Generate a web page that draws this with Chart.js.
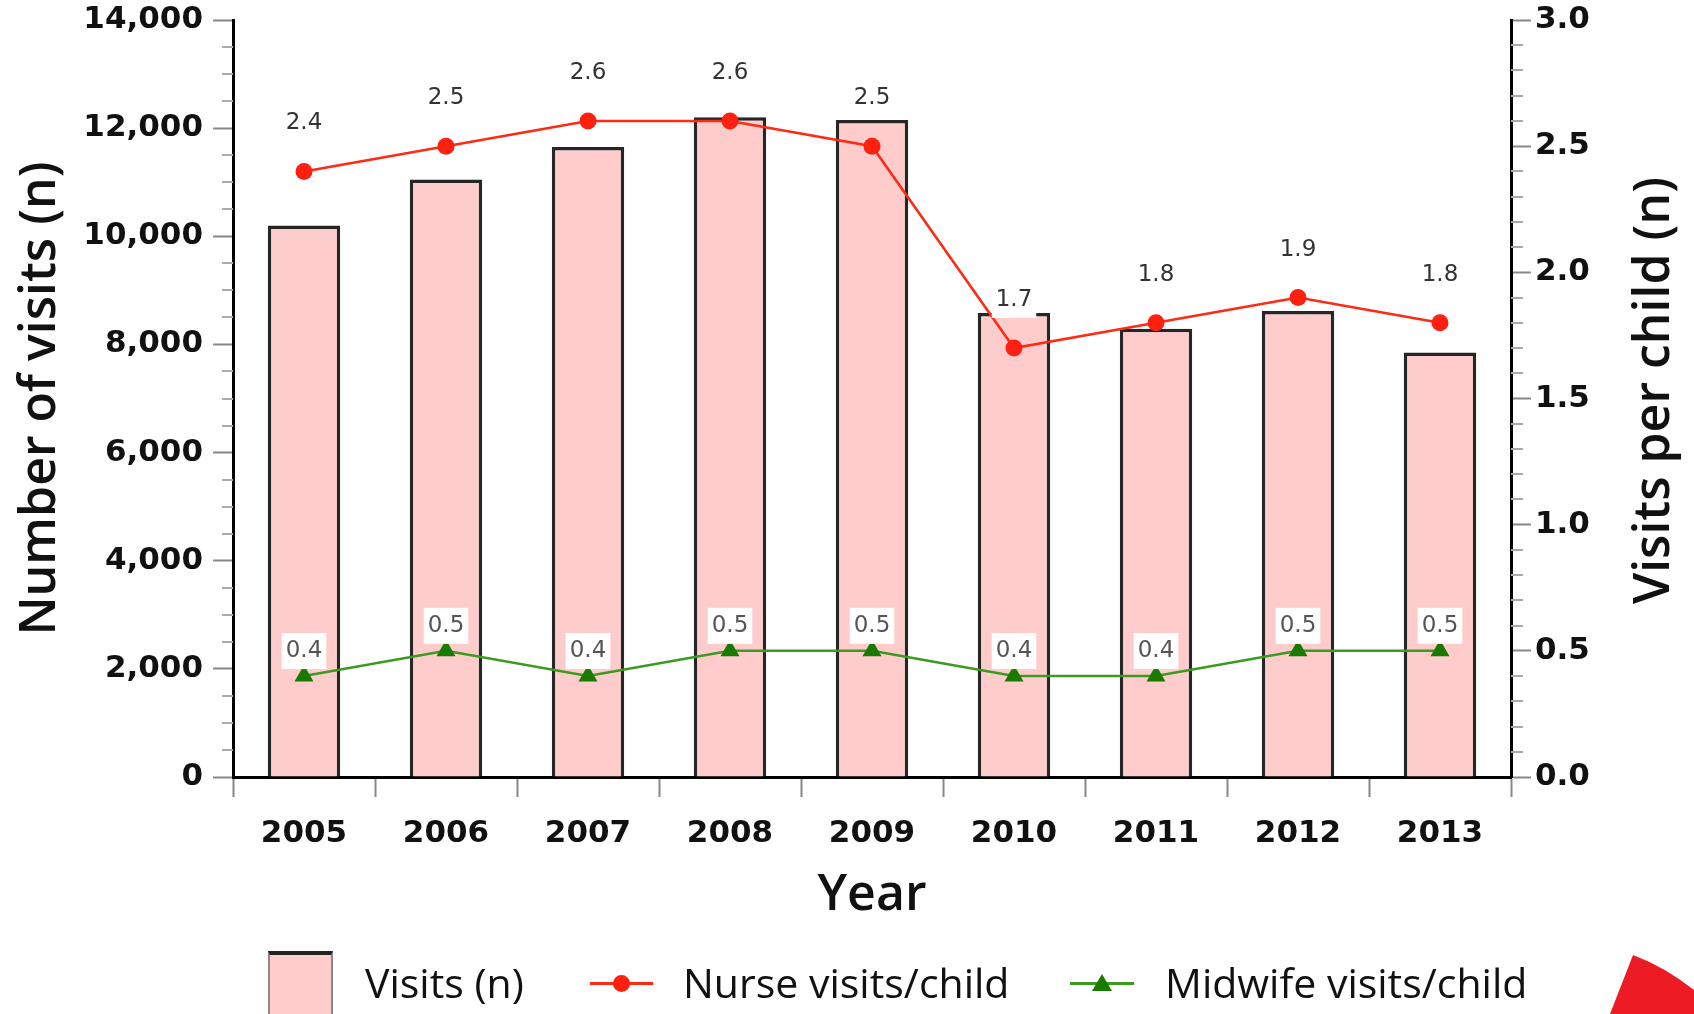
<!DOCTYPE html>
<html>
<head>
<meta charset="utf-8">
<script src="https://cdn.jsdelivr.net/npm/chart.js@4.4.1/dist/chart.umd.min.js"></script>
<style>
  html, body { margin: 0; padding: 0; background: #fff; }
  #wrap { position: relative; width: 1694px; height: 1014px; overflow: hidden; }
  #c { position: absolute; left: 0; top: 0; }
  .lg { position: absolute; font-family: "Open Sans", sans-serif; font-size: 41px; line-height: 40px; color: #111; white-space: nowrap; }
  .swatch { position: absolute; left: 268px; top: 951px; width: 61px; height: 80px; background: #ffcccc; border-top: 4px solid #222; border-left: 2px solid #888; border-right: 2px solid #888; }
  .ln { position: absolute; height: 3px; top: 982px; }
  .dot { position: absolute; width: 17px; height: 17px; border-radius: 50%; background: #ff2010; top: 975px; left: 613px; }
  .tri { position: absolute; width: 0; height: 0; border-left: 10px solid transparent; border-right: 10px solid transparent; border-bottom: 17px solid #1a7a00; top: 974px; left: 1092px; }
  #corner { position: absolute; left: 0; top: 0; }
</style>
</head>
<body>
<div id="wrap">
  <canvas id="c" width="1694" height="1014"></canvas>
  <div class="swatch"></div>
  <div class="lg" style="left:365px; top:962px;">Visits (n)</div>
  <div class="ln" style="left:590px; width:63px; background:#ff2a14;"></div>
  <div class="dot"></div>
  <div class="lg" style="left:683px; top:962px;">Nurse visits/child</div>
  <div class="ln" style="left:1070px; width:64px; background:#3c9a20;"></div>
  <div class="tri"></div>
  <div class="lg" style="left:1165px; top:962px;">Midwife visits/child</div>
  <svg id="corner" width="1694" height="1014">
    <path d="M1633,955 L1610,1014 L1694,1014 L1694,990 Q1665,967 1633,955 Z" fill="#ed1c24"/>
  </svg>
</div>
<script>
// data
const years = ['2005', '2006', '2007', '2008', '2009', '2010', '2011', '2012', '2013'];
const visits = [10200, 11050, 11650, 12200, 12150, 8580, 8290, 8620, 7850];
const nursePerChild = [2.4, 2.5, 2.6, 2.6, 2.5, 1.7, 1.8, 1.9, 1.8];
const midwifePerChild = [0.4, 0.5, 0.4, 0.5, 0.5, 0.4, 0.4, 0.5, 0.5];

const tickFont = { family: 'DejaVu Sans', size: 31, weight: 'bold' };
const titleFont = { family: 'Open Sans', size: 50, weight: '600' };

// value labels above the two line series
const valueLabels = {
  id: 'valueLabels',
  afterDatasetsDraw(chart) {
    const ctx = chart.ctx;
    ctx.save();
    ctx.font = '23px "DejaVu Sans"';
    ctx.textAlign = 'center';
    ctx.textBaseline = 'middle';
    [[1, 48, '#333'], [2, 25, '#555']].forEach(([di, off, col]) => {
      const meta = chart.getDatasetMeta(di);
      meta.data.forEach((pt, i) => {
        const txt = chart.data.datasets[di].data[i].toFixed(1);
        const w = ctx.measureText(txt).width + 8;
        const y = pt.y - off;
        ctx.fillStyle = '#fff';
        ctx.fillRect(pt.x - w / 2, y - 18, w, 36);
        ctx.fillStyle = col;
        ctx.fillText(txt, pt.x, y);
      });
    });
    ctx.restore();
  }
};

// minor ticks on both value axes + right axis title (reads bottom to top)
const axisExtras = {
  id: 'axisExtras',
  afterDraw(chart) {
    const ctx = chart.ctx;
    const y = chart.scales.y, y1 = chart.scales.y1;
    ctx.save();
    ctx.strokeStyle = '#aaa';
    ctx.lineWidth = 2;
    ctx.beginPath();
    for (let v = 500; v < 14000; v += 500) {
      if (v % 2000 === 0) continue;
      const py = Math.round(y.getPixelForValue(v));
      ctx.moveTo(y.right - 11, py);
      ctx.lineTo(y.right, py);
    }
    for (let k = 1; k < 30; k++) {
      if (k % 5 === 0) continue;
      const py = Math.round(y1.getPixelForValue(k / 10));
      ctx.moveTo(y1.left, py);
      ctx.lineTo(y1.left + 12, py);
    }
    ctx.stroke();

    const ca = chart.chartArea;
    ctx.translate(1655, (ca.top + ca.bottom) / 2 - 8);
    ctx.rotate(-Math.PI / 2);
    ctx.font = '600 50px "Open Sans"';
    ctx.fillStyle = '#111';
    ctx.textAlign = 'center';
    ctx.textBaseline = 'middle';
    ctx.fillText('Visits per child (n)', 0, 0);
    ctx.restore();
  }
};

new Chart(document.getElementById('c'), {
  type: 'bar',
  data: {
    labels: years,
    datasets: [
      {
        type: 'bar',
        label: 'Visits (n)',
        data: visits,
        yAxisID: 'y',
        backgroundColor: '#ffcccc',
        borderColor: '#262626',
        borderWidth: 3.5,
        barPercentage: 0.51,
        categoryPercentage: 1,
        order: 3
      },
      {
        type: 'line',
        label: 'Nurse visits/child',
        data: nursePerChild,
        yAxisID: 'y1',
        borderColor: '#ff2a14',
        borderWidth: 2.5,
        pointStyle: 'circle',
        pointRadius: 8.5,
        pointBorderWidth: 0,
        pointBackgroundColor: '#ff2010',
        tension: 0,
        order: 1
      },
      {
        type: 'line',
        label: 'Midwife visits/child',
        data: midwifePerChild,
        yAxisID: 'y1',
        borderColor: '#3c9a20',
        borderWidth: 2.5,
        pointStyle: 'triangle',
        pointRadius: 11,
        pointBorderWidth: 0,
        pointBackgroundColor: '#1a7a00',
        tension: 0,
        order: 2
      }
    ]
  },
  options: {
    responsive: false,
    animation: false,
    layout: { padding: { top: 20, bottom: 88, left: 0, right: 0 } },
    plugins: {
      legend: { display: false },
      tooltip: { enabled: false }
    },
    scales: {
      x: {
        grid: { offset: true, drawOnChartArea: false, tickLength: 20, tickColor: '#888', tickWidth: 2 },
        border: { color: '#000', width: 3 },
        ticks: { font: tickFont, color: '#111', padding: 18 },
        title: { display: true, text: 'Year', font: titleFont, color: '#111', padding: { top: 0, bottom: 0 } },
        afterFit(s) { s.height = 149; }
      },
      y: {
        position: 'left',
        min: 0,
        max: 14000,
        ticks: { stepSize: 2000, callback: v => v.toLocaleString('en-US'), font: tickFont, color: '#111', padding: 10 },
        grid: { drawOnChartArea: false, tickLength: 20, tickColor: '#888', tickWidth: 2 },
        border: { color: '#000', width: 3 },
        title: { display: true, text: 'Number of visits (n)', font: titleFont, color: '#111', padding: { top: 11, bottom: 0 } },
        afterFit(s) { s.width = 233; s.paddingTop = 0; s.paddingBottom = 0; }
      },
      y1: {
        position: 'right',
        min: 0,
        max: 3,
        ticks: { stepSize: 0.5, callback: v => v.toFixed(1), font: tickFont, color: '#111', padding: 4 },
        grid: { drawOnChartArea: false, tickLength: 20, tickColor: '#888', tickWidth: 2 },
        border: { color: '#000', width: 3 },
        afterFit(s) { s.width = 183; s.paddingTop = 0; s.paddingBottom = 0; }
      }
    }
  },
  plugins: [valueLabels, axisExtras]
});
</script>
</body>
</html>
